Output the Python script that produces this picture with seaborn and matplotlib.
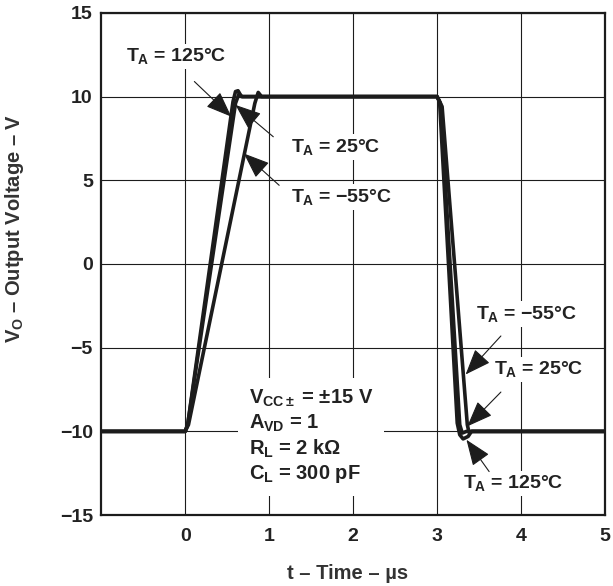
import numpy as np
import pandas as pd
import matplotlib
matplotlib.use("Agg")
import matplotlib.pyplot as plt
import seaborn as sns

# curve data (t in us, V in volts)
t_125 = [-1.0, 0.0, 0.03, 0.57, 0.60, 0.63, 0.67, 3.0, 3.03, 3.24, 3.27, 3.31, 3.37, 3.41, 5.0]
v_125 = [-10, -10, -9.6, 9.7, 10.3, 10.35, 10.0, 10, 9.7, -9.5, -10.2, -10.45, -10.3, -10.0, -10]
t_25 = [-1.0, 0.0, 0.03, 0.60, 0.64, 0.68, 3.0, 3.04, 3.27, 3.30, 3.35, 5.0]
v_25 = [-10, -10, -9.6, 9.6, 10.15, 10.0, 10, 9.6, -9.6, -10.1, -10.0, -10]
t_m55 = [-1.0, 0.0, 0.04, 0.83, 0.87, 0.91, 3.0, 3.06, 3.36, 3.38, 3.42, 5.0]
v_m55 = [-10, -10, -9.6, 9.6, 10.25, 10.0, 10, 9.4, -9.6, -10.05, -10.0, -10]

x_ticks = [0, 1, 2, 3, 4, 5]
y_ticks = [-15, -10, -5, 0, 5, 10, 15]

df = pd.concat([
    pd.DataFrame({"t": t_125, "v": v_125, "temp": "125"}),
    pd.DataFrame({"t": t_25, "v": v_25, "temp": "25"}),
    pd.DataFrame({"t": t_m55, "v": v_m55, "temp": "-55"}),
])

sns.set_style("white")
plt.rcParams["font.family"] = ["Liberation Sans", "DejaVu Sans"]
plt.rcParams["font.weight"] = "bold"
plt.rcParams["mathtext.fontset"] = "custom"
plt.rcParams["mathtext.rm"] = "Liberation Sans:bold"
plt.rcParams["mathtext.it"] = "Liberation Sans:bold"
plt.rcParams["mathtext.bf"] = "Liberation Sans:bold"
plt.rcParams["mathtext.sf"] = "Liberation Sans:bold"

ink = "#1c1c1c"
fig = plt.figure(figsize=(6.13, 5.86), dpi=100)
ax = fig.add_axes([0.165, 0.121, 0.822, 0.857])

for name, grp in df.groupby("temp", sort=False):
    sns.lineplot(data=grp, x="t", y="v", sort=False, estimator=None,
                 color=ink, lw=2.6, ax=ax, zorder=5)

ax.set_xlim(-1, 5)
ax.set_ylim(-15, 15)
ax.set_xticks(x_ticks)
ax.set_yticks(y_ticks)
ax.set_xticklabels([str(v) for v in x_ticks])
ax.set_yticklabels([str(v).replace("-", "\u2212") for v in y_ticks])
ax.tick_params(length=0, labelsize=14, colors="#222222", pad=6)
ax.tick_params(axis="x", pad=9)
for lab in ax.get_xticklabels() + ax.get_yticklabels():
    lab.set_fontweight("bold")
ax.grid(True, color=ink, lw=0.8)
ax.set_axisbelow(True)
for sp in ax.spines.values():
    sp.set_color(ink)
    sp.set_linewidth(1.6)

ax.set_xlabel("t \u2013 Time \u2013 \u00b5s", fontsize=14.5, fontweight="bold", color="#333333")
ax.set_ylabel("$V_O$ \u2013 Output Voltage \u2013 V", fontsize=14.5, fontweight="bold", color="#333333")
ax.xaxis.set_label_coords(0.49, -0.098)
ax.yaxis.set_label_coords(-0.15, 0.57)

box = dict(facecolor="white", edgecolor="none", pad=2)
labels = [
    ("$T_A$ = 125\u00b0C", -0.70, 12.4),
    ("$T_A$ = 25\u00b0C", 1.26, 7.0),
    ("$T_A$ = \u221255\u00b0C", 1.26, 4.0),
    ("$T_A$ = \u221255\u00b0C", 3.46, -3.0),
    ("$T_A$ = 25\u00b0C", 3.68, -6.3),
    ("$T_A$ = 125\u00b0C", 3.31, -13.1),
]
for txt, x, y in labels:
    ax.text(x, y, txt, fontsize=14, fontweight="bold", color="#222222",
            ha="left", va="center", bbox=box, zorder=3)

arrows = [
    ((0.55, 8.8), (0.11, 10.9)),
    ((0.60, 9.5), (1.05, 7.6)),
    ((0.70, 6.6), (1.12, 4.7)),
    ((3.34, -6.6), (3.76, -4.3)),
    ((3.36, -9.7), (3.76, -7.65)),
    ((3.35, -10.5), (3.62, -12.4)),
]
for tip, start in arrows:
    ax.annotate("", xy=tip, xytext=start, zorder=6,
                arrowprops=dict(arrowstyle="-|>,head_length=0.9,head_width=0.35",
                                color=ink, lw=0.8, mutation_scale=18,
                                shrinkA=0, shrinkB=0))

cond = ("$V_{CC\\pm}$ = \u00b115 V\n"
        "$A_{VD}$ = 1\n"
        "$R_L$ = 2 k\u03a9\n"
        "$C_L$ = 300 pF")
ax.text(0.76, -10.3, cond, fontsize=14.5, fontweight="bold", color="#222222",
        ha="left", va="center", linespacing=1.2, zorder=3,
        bbox=dict(facecolor="white", edgecolor="none", pad=8))

fig.savefig("out.png", dpi=100)
